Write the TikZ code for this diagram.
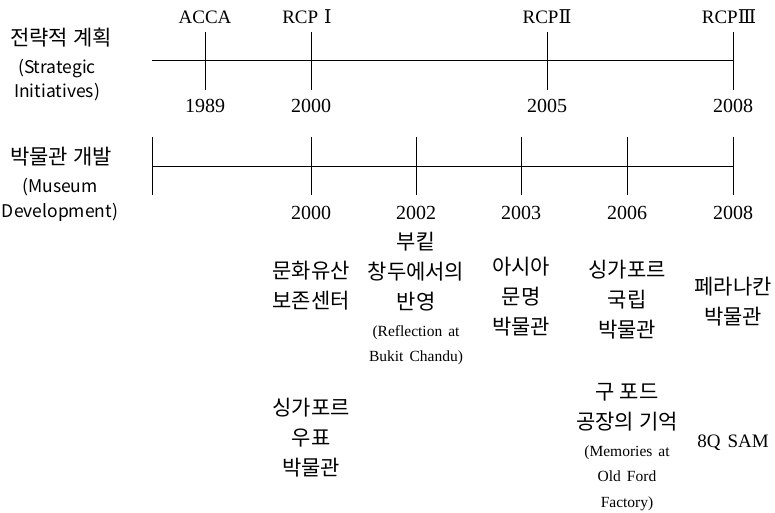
\documentclass[tikz,border=0pt]{standalone}
\usepackage{fontspec}
\setmainfont{Liberation Serif}
\newfontfamily\kr{Noto Sans CJK KR}
\newfontfamily\dvs{DejaVu Serif}
\newcommand\myWideSpace{\spaceskip 6pt\relax}
\begin{document}
\begin{tikzpicture}[x=1pt,y=-1pt,
  axis/.style={line width=1pt},
  yr/.style={font=\fontsize{20}{20}\selectfont, inner sep=0pt},
  lab/.style={font=\fontsize{19}{19}\selectfont, inner sep=0pt},
  side/.style={font=\kr\fontsize{21}{24}\selectfont, inner sep=0pt, align=center},
  sideen/.style={font=\kr\fontsize{17.5}{24.5}\selectfont, inner sep=0pt, align=center},
  krtext/.style={font=\kr\fontsize{21}{30}\selectfont, inner sep=0pt, align=center},
  entext/.style={font=\fontsize{15.5}{25.5}\selectfont\myWideSpace, inner sep=0pt, align=center}]
\useasboundingbox (0,0) rectangle (775,513);
% side labels
\node[side] (s1) at (61,38) {전략적 계획};
\node[sideen] (s1b) at (57,80) {(Strategic\\Initiatives)};
\node[side] (s2) at (61,157) {박물관 개발};
\node[sideen] (s2b) at (60,200) {(Museum\\Development)};
% top timeline
\coordinate (a0) at (152,61);
\coordinate (a4) at (733,61);
\draw[axis] (a0) -- (a4);
\foreach \n/\x in {1/205,2/311,3/547,4/733}{
  \coordinate (ta\n) at (\x,32);
  \coordinate (tb\n) at (\x,90);
  \draw[axis] (ta\n) -- (tb\n);
}
\node[lab] (acca) at (205,17) {ACCA};
\node[lab] (rcp1) at (307,17) {RCP\hspace{6pt}{\dvs Ⅰ}};
\node[lab] (rcp2) at (547,17) {RCP{\dvs Ⅱ}};
\node[lab] (rcp3) at (729,17) {RCP{\dvs Ⅲ}};
\node[yr] (y1989) at (205,106) {1989};
\node[yr] (y2000a) at (311,106) {2000};
\node[yr] (y2005) at (547,106) {2005};
\node[yr] (y2008a) at (733,106) {2008};
% bottom timeline
\coordinate (b0) at (152,166);
\coordinate (b6) at (733,166);
\draw[axis] (b0) -- (b6);
\foreach \n/\x in {0/152,1/311,2/416,3/521,4/627,5/733}{
  \coordinate (ua\n) at (\x,137);
  \coordinate (ub\n) at (\x,195);
  \draw[axis] (ua\n) -- (ub\n);
}
\node[yr] (y2000b) at (311,213) {2000};
\node[yr] (y2002) at (416,213) {2002};
\node[yr] (y2003) at (521,213) {2003};
\node[yr] (y2006) at (627,213) {2006};
\node[yr] (y2008b) at (733,213) {2008};
% museums
\node[krtext] (m1) at (311,286) {문화유산\\보존센터};
\node[krtext] (m2) at (311,438) {싱가포르\\우표\\박물관};
\node[krtext] (m3) at (416,272) {부킽\\창두에서의\\반영};
\node[entext] (m3e) at (416,345) {(Reflection at\\Bukit Chandu)};
\node[krtext] (m4) at (521,297) {아시아\\문명\\박물관};
\node[krtext] (m5) at (627,300) {싱가포르\\국립\\박물관};
\node[krtext] (m6) at (627,407) {구 포드\\공장의 기억};
\node[entext] (m6e) at (627,478) {(Memories at\\Old Ford\\Factory)};
\node[krtext] (m7) at (733,302) {페라나칸\\박물관};
\node[lab] (m8) at (733,443) {8Q\hspace{7pt}SAM};
\end{tikzpicture}
\end{document}
